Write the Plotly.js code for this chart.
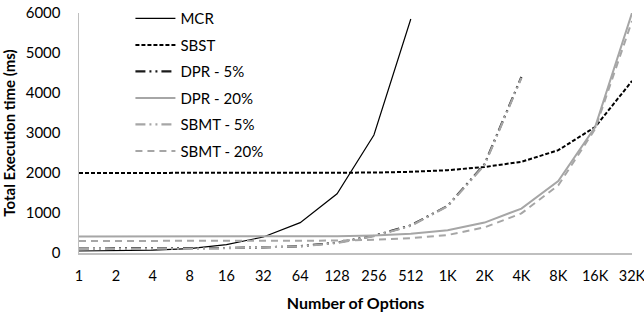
<!DOCTYPE html>
<html>
<head>
<meta charset="utf-8">
<script src="https://cdn.plot.ly/plotly-3.0.1.min.js"></script>
<style>body{margin:0;padding:0;background:#fff}#chart{width:644px;height:313px}</style>
</head>
<body>
<div id="chart"></div>
<script>
const categories = ["1","2","4","8","16","32","64","128","256","512","1K","2K","4K","8K","16K","32K"];
const mcr     = [50, 55, 70, 110, 210, 400, 760, 1480, 2950, 5850, null, null, null, null, null, null];
const sbst    = [2000, 2000, 2000, 2000, 2000, 2000, 2000, 2000, 2010, 2030, 2070, 2150, 2280, 2570, 3150, 4300];
const dpr5    = [110, 110, 110, 115, 125, 140, 170, 260, 430, 690, 1180, 2220, 4400, null, null, null];
const dpr20   = [410, 410, 410, 410, 410, 410, 410, 420, 440, 480, 570, 760, 1110, 1800, 3150, 6000];
const sbmt5   = [100, 100, 105, 110, 120, 135, 165, 250, 420, 680, 1170, 2200, 4380, null, null, null];
const sbmt20  = [300, 300, 300, 300, 300, 300, 300, 310, 330, 370, 450, 640, 990, 1690, 3100, 5800];
const names = ["MCR", "SBST", "DPR - 5%", "DPR - 20%", "SBMT - 5%", "SBMT - 20%"];

const series = [mcr, sbst, dpr5, dpr20, sbmt5, sbmt20];
const styles = [
  {color: "#000000", width: 1.2, dash: "solid"},
  {color: "#000000", width: 2, dash: "4px,2px"},
  {color: "#1a1a1a", width: 2.2, dash: "10px,4px,2px,4px,2px,4px"},
  {color: "#a6a6a6", width: 2, dash: "solid"},
  {color: "#a6a6a6", width: 2.2, dash: "10px,4px,2px,4px,2px,4px"},
  {color: "#a6a6a6", width: 2, dash: "7px,5px"}
];

const traces = series.map((ys, i) => ({
  x: categories, y: ys, name: names[i], type: "scatter", mode: "lines",
  line: styles[i], legendgroup: "g" + i, connectgaps: false
}));

const font = "Lato, 'Open Sans', sans-serif";
const layout = {
  width: 644, height: 313,
  margin: {l: 79, r: 12, t: 13, b: 60, autoexpand: false},
  paper_bgcolor: "#ffffff", plot_bgcolor: "#ffffff",
  font: {family: font, size: 15, color: "#000"},
  showlegend: true,
  legend: {
    x: 0.093, y: 1.045, xanchor: "left", yanchor: "top",
    bgcolor: "rgba(0,0,0,0)", tracegroupgap: 4,
    font: {family: font, size: 15, color: "#000"},
    itemwidth: 40
  },
  xaxis: {
    type: "category", categoryorder: "array", categoryarray: categories,
    range: [0, 15], showgrid: false, zeroline: false,
    showline: true, linecolor: "#bfbfbf", linewidth: 1.5,
    ticks: "", tickfont: {family: font, size: 14.5}, ticklabelstandoff: 9,
    title: {text: "Number of Options", font: {family: font, size: 16, weight: "bold"}, standoff: 15}
  },
  yaxis: {
    range: [0, 6000], dtick: 1000, showgrid: false, zeroline: false,
    showline: true, linecolor: "#bfbfbf", linewidth: 1.5,
    ticks: "", tickfont: {family: font, size: 15}, ticklabelstandoff: 14,
    title: {text: "Total Execution time (ms)", font: {family: font, size: 15, weight: "bold"}, standoff: 9}
  }
};

Plotly.newPlot("chart", traces, layout, {displayModeBar: false, staticPlot: true});
</script>
</body>
</html>
